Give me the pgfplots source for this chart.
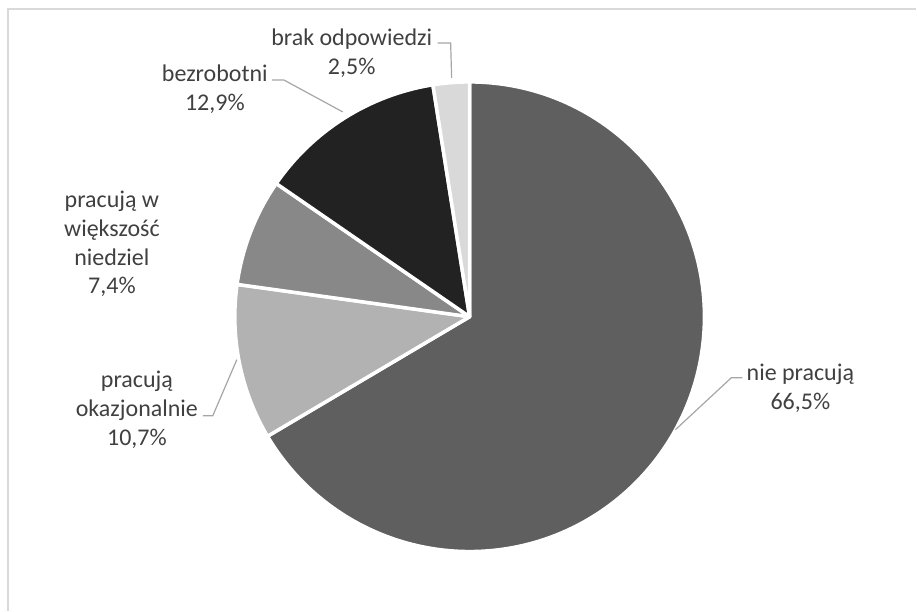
\documentclass[border=0pt]{standalone}
\usepackage{fontspec}
\setmainfont{Carlito}
\usepackage{pgfplots}
\usepackage{pgfplotstable}
\pgfplotsset{compat=1.18}
\definecolor{cA}{HTML}{5F5F5F}
\definecolor{cB}{HTML}{B2B2B2}
\definecolor{cC}{HTML}{888888}
\definecolor{cD}{HTML}{222222}
\definecolor{cE}{HTML}{D9D9D9}
\definecolor{txt}{HTML}{404040}
\definecolor{lead}{HTML}{A6A6A6}
\definecolor{frame}{HTML}{D9D9D9}

\pgfplotstableread{
value col
66.5 cA
10.7 cB
7.4 cC
12.9 cD
2.5 cE
}\piedata

% build the wedge paths (in axis coordinates) from the table
\gdef\piepaths{}
\gdef\angstart{90}
\pgfplotstablegetrowsof{\piedata}
\pgfmathtruncatemacro\lastrow{\pgfplotsretval-1}
\pgfplotsforeachungrouped \i in {0,...,\lastrow}{%
  \pgfplotstablegetelem{\i}{value}\of\piedata
  \let\v\pgfplotsretval
  \pgfplotstablegetelem{\i}{col}\of\piedata
  \let\c\pgfplotsretval
  \pgfmathsetmacro\angend{\angstart-3.6*\v}%
  \xdef\piepaths{\piepaths
    \noexpand\fill[fill=\c, draw=white, line width=3.5pt, line join=round]
    (axis cs:470,317) -- ++(\angstart:235pt)
    arc[start angle=\angstart, end angle=\angend, radius=235pt] -- cycle;}%
  \xdef\angstart{\angend}%
}

\begin{document}
\begin{tikzpicture}
\begin{axis}[
  width=917pt, height=611pt, scale only axis,
  xmin=0, xmax=917, ymin=0, ymax=611, y dir=reverse,
  hide axis, clip=false,
]
\path (axis cs:0,0) rectangle (axis cs:917,611);
\draw[frame, line width=1.5pt] (axis cs:8,611) -- (axis cs:8,9) -- (axis cs:917,9);
\piepaths
% leader lines
\draw[lead, line width=1.2pt] (axis cs:438,43) -- (axis cs:451,43) -- (axis cs:452,78);
\draw[lead, line width=1.2pt] (axis cs:272,80) -- (axis cs:284,80) -- (axis cs:343,112);
\draw[lead, line width=1.2pt] (axis cs:203,416) -- (axis cs:213,416) -- (axis cs:237,360);
\draw[lead, line width=1.2pt] (axis cs:743,378) -- (axis cs:732,378) -- (axis cs:676,430);
% labels
\tikzset{lab/.style={align=center, text=txt, font=\fontsize{24}{29}\selectfont, inner sep=0pt}}
\node[lab] at (axis cs:352,53) {brak odpowiedzi\\2,5\%};
\node[lab] at (axis cs:215,89) {bezrobotni\\12,9\%};
\node[lab] at (axis cs:112,244) {pracują w\\większość\\niedziel\\7,4\%};
\node[lab] at (axis cs:137,410) {pracują\\okazjonalnie\\10,7\%};
\node[lab] at (axis cs:801,389) {nie pracują\\66,5\%};
\end{axis}
\end{tikzpicture}
\end{document}
